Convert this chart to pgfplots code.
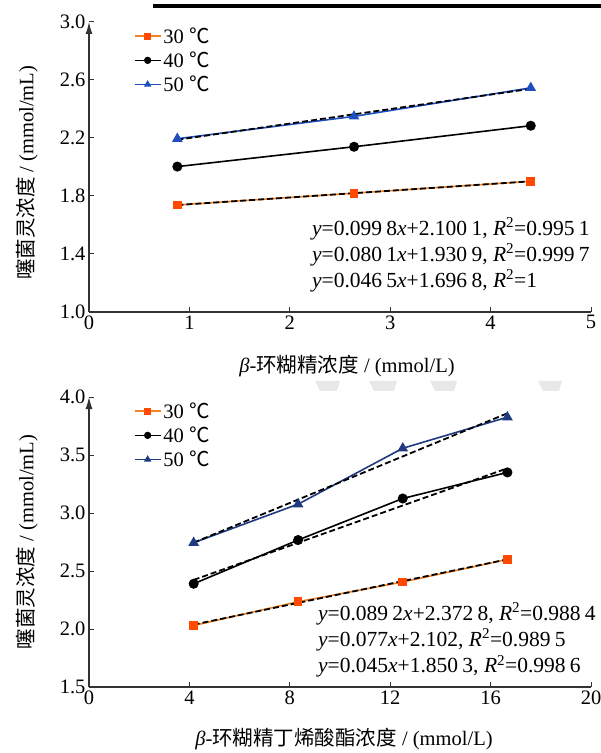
\documentclass[border=0pt]{standalone}
\usepackage{fontspec}
\setmainfont{Liberation Serif}
\newfontfamily\cjk{Noto Sans CJK SC}
\usepackage{pgfplots}
\pgfplotsset{compat=1.18}
\usetikzlibrary{arrows.meta}

\definecolor{corange}{HTML}{F5821F}
\definecolor{cmark}{HTML}{FF4A00}
\definecolor{cblue}{HTML}{1F4FBF}
\definecolor{cnavy}{HTML}{1F3A80}

\newcommand{\fs}{\fontsize{20.5}{24}\selectfont}
\newcommand{\fe}{\fontsize{21.5}{25}\selectfont}
\newcommand{\gap}{\hspace{0.2em}}

\tikzset{eq/.style={anchor=west, font=\fe, inner sep=0pt}}

\pgfplotsset{
  base/.style={
    width=502pt, height=290pt, scale only axis,
    axis x line=bottom, axis y line=left,
    axis line style={line width=1.1pt, black!80},
    x axis line style={-},
    y axis line style={-{Latex[length=12pt,width=7pt]}},
    tick align=inside, major tick length=5pt,
    tick style={line width=1pt, black!80},
    ticklabel style={font=\fs},
    /pgf/number format/assume math mode=true,
    label style={font=\fs},
    legend style={draw=none, fill=none, font=\fs,
      at={(rel axis cs:0.083,0.995)}, anchor=north west,
      row sep=3pt, legend cell align=left,
      /tikz/every even column/.append style={column sep=4pt}},
    legend image code/.code={
      \draw[#1, mark repeat=2, mark phase=2, mark size=2.8pt]
        plot coordinates {(0pt,0pt) (13pt,0pt) (26pt,0pt)};},
    clip=false,
  },
  s30/.style={corange, line width=1.6pt, mark=square*,
    mark size=3.6pt, mark options={fill=cmark, draw=cmark}},
  s40/.style={black, line width=1.6pt, mark=*, mark size=4.2pt,
    mark options={fill=black}},
  s50/.style={cblue, line width=1.6pt, mark=triangle*, mark size=4.6pt,
    mark options={fill=cblue}},
  fit/.style={black, line width=1.8pt, dash pattern=on 6pt off 3pt, forget plot},
}

\begin{document}
\begin{tikzpicture}
\path[use as bounding box] (0,0) rectangle (601pt,753pt);
\fill[black] (153pt,744.5pt) rectangle (601pt,748.5pt);
% faint watermark marks
\foreach \a/\b in {315/340, 369/397, 430/457, 538/562}
  \fill[gray!18] (\a pt,372pt) -- (\b pt,372pt) -- (\b pt-3pt,362pt) -- (\a pt+5pt,362pt) -- cycle;

\begin{axis}[base, at={(89pt,441pt)}, anchor=south west,
  xmin=0, xmax=5, ymin=1.0, ymax=3.0,
  xtick={0,1,2,3,4,5}, ytick={1.0,1.4,1.8,2.2,2.6,3.0},
  yticklabel style={/pgf/number format/.cd, fixed, fixed zerofill, precision=1},
  xlabel={\textit{β}-{\cjk 环糊精浓度} / (mmol/L)},
  ylabel={{\cjk 噻菌灵浓度} / (mmol/mL)},
  xlabel style={at={(axis description cs:0.514,-0.186)}, anchor=center},
  ylabel style={at={(axis description cs:-0.124,0.48)}, anchor=center},
]
\addplot[s30] coordinates {(0.88,1.7377) (2.64,1.8196) (4.40,1.9014)};
\addplot[s40] coordinates {(0.88,2.0028) (2.64,2.1396) (4.40,2.2847)};
\addplot[s50] coordinates {(0.88,2.195) (2.64,2.349) (4.40,2.546)};
\addplot[fit] coordinates {(0.88,1.7377) (4.40,1.9014)};
\addplot[fit] coordinates {(0.88,2.1879) (4.40,2.5392)};
\legend{30 {\cjk ℃}, 40 {\cjk ℃}, 50 {\cjk ℃}}
\node[eq] at (rel axis cs:0.444,0.286)
  {\textit{y}=0.099\gap8\textit{x}+2.100\gap1, \textit{R}\textsuperscript{2}=0.995\gap1};
\node[eq] at (rel axis cs:0.444,0.197)
  {\textit{y}=0.080\gap1\textit{x}+1.930\gap9, \textit{R}\textsuperscript{2}=0.999\gap7};
\node[eq] at (rel axis cs:0.444,0.107)
  {\textit{y}=0.046\gap5\textit{x}+1.696\gap8, \textit{R}\textsuperscript{2}=1};
\end{axis}

\begin{axis}[base, at={(89pt,66pt)}, anchor=south west,
  xmin=0, xmax=20, ymin=1.5, ymax=4.0,
  xtick={0,4,8,12,16,20}, ytick={1.5,2.0,2.5,3.0,3.5,4.0},
  yticklabel style={/pgf/number format/.cd, fixed, fixed zerofill, precision=1},
  xlabel={\textit{β}-{\cjk 环糊精丁烯酸酯浓度} / (mmol/L)},
  ylabel={{\cjk 噻菌灵浓度} / (mmol/mL)},
  xlabel style={at={(axis description cs:0.508,-0.178)}, anchor=center},
  ylabel style={at={(axis description cs:-0.124,0.5)}, anchor=center},
  s50/.append style={cnavy, mark options={fill=cnavy}},
]
\addplot[s30] coordinates {(4.17,2.030) (8.33,2.235) (12.50,2.405) (16.67,2.600)};
\addplot[s40] coordinates {(4.17,2.390) (8.33,2.767) (12.50,3.125) (16.67,3.350)};
\addplot[s50] coordinates {(4.17,2.744) (8.33,3.076) (12.50,3.558) (16.67,3.826)};
\addplot[fit] coordinates {(4.17,2.0380) (16.67,2.6005)};
\addplot[fit] coordinates {(4.17,2.4231) (16.67,3.3856)};
\addplot[fit] coordinates {(4.17,2.7448) (16.67,3.8598)};
\legend{30 {\cjk ℃}, 40 {\cjk ℃}, 50 {\cjk ℃}}
\node[eq] at (rel axis cs:0.456,0.252)
  {\textit{y}=0.089\gap2\textit{x}+2.372\gap8, \textit{R}\textsuperscript{2}=0.988\gap4};
\node[eq] at (rel axis cs:0.456,0.162)
  {\textit{y}=0.077\textit{x}+2.102, \textit{R}\textsuperscript{2}=0.989\gap5};
\node[eq] at (rel axis cs:0.456,0.071)
  {\textit{y}=0.045\textit{x}+1.850\gap3, \textit{R}\textsuperscript{2}=0.998\gap6};
\end{axis}
\end{tikzpicture}
\end{document}
